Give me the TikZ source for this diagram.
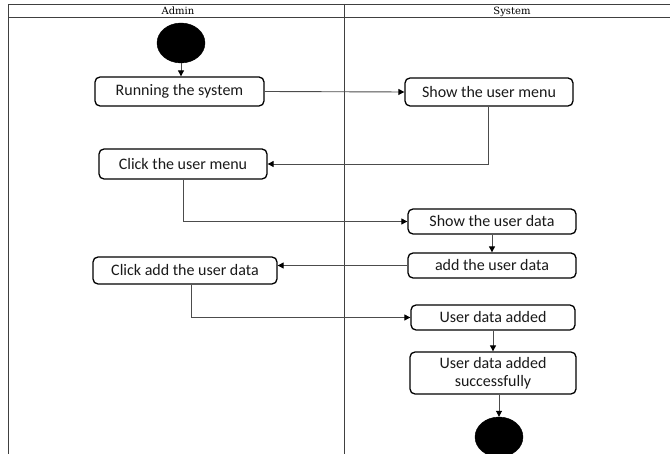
\documentclass[tikz,border=0pt]{standalone}
\usepackage{fontspec}
\setmainfont{Carlito}
\newfontfamily\headfont{DejaVu Serif}
\usetikzlibrary{arrows.meta,shapes.geometric}
\tikzset{
  lane/.style={draw=black!75, line width=0.9pt},
  lanehead/.style={font=\headfont\fontsize{10}{12}\selectfont, text=black, inner sep=0pt, anchor=base},
  act/.style={draw=black, line width=1.3pt, rounded corners=5pt, inner sep=0pt,
    align=center, font=\fontsize{16}{18}\selectfont, text=black!90},
  blob/.style={ellipse, fill=black, draw=black, inner sep=0pt,
    minimum width=48pt, minimum height=40pt},
  flow/.style={draw=black!70, line width=0.9pt,
    -{Triangle[length=6pt,width=6pt,color=black]}}
}
\begin{document}
\begin{tikzpicture}[x=1pt,y=-1pt]
\useasboundingbox (0,0) rectangle (670,454);

% swimlane frame
\draw[lane] (670,4) -- (8,4) -- (8,454);
\draw[lane] (8,17) -- (670,17);
\draw[lane] (344,4) -- (344,454);
\node[lanehead] (hadmin) at (178,14.5) {Admin};
\node[lanehead] (hsys) at (512,14.5) {System};

% activities
\node[blob] (start) at (181,43) {};
\node[act, minimum width=169pt, minimum height=29pt] (run) at (179.5,91.5) {Running the system};
\node[act, minimum width=168pt, minimum height=28pt] (menu) at (489,92) {Show the user menu};
\node[act, minimum width=168pt, minimum height=30pt] (click) at (183,164) {Click the user menu};
\node[act, minimum width=168pt, minimum height=25pt] (sdata) at (492,221.5) {Show the user data};
\node[act, minimum width=168pt, minimum height=25pt] (adata) at (492,265.5) {add the user data};
\node[act, minimum width=184pt, minimum height=27pt] (clickadd) at (185,270.5) {Click add the user data};
\node[act, minimum width=164pt, minimum height=25pt] (added) at (493,317.5) {User data added};
\node[act, minimum width=166pt, minimum height=42pt] (succ) at (493,373) {User data added\\successfully};
\node[blob] (finish) at (499,437) {};

% control flow
\draw[flow] (start.south) -- (start.south |- run.north);
\draw[flow] (run.east) -- (menu.west);
\draw[flow] (menu.south -| 488,0) |- (click.east);
\draw[flow] (click.south) |- (sdata.west);
\draw[flow] (sdata.south) -- (adata.north);
\draw[flow] (adata.west) -- (adata.west -| clickadd.east);
\draw[flow] (clickadd.south -| 191,0) |- (added.west);
\draw[flow] (added.south) -- (added.south |- succ.north);
\draw[flow] (succ.south -| 499,0) -- (finish.north);
\end{tikzpicture}
\end{document}
